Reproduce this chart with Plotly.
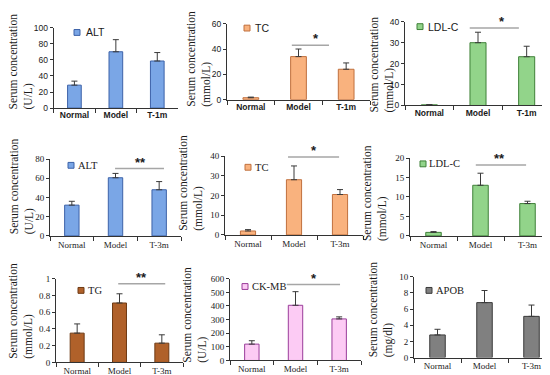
import plotly.graph_objects as go

W, H = 550, 375

# ---------------- data ----------------
cats_1m = ["Normal", "Model", "T-1m"]
cats_3m = ["Normal", "Model", "T-3m"]

alt_1m = [28.5, 70, 58.5]
alt_1m_err = [5, 15, 10.5]
tc_1m = [1.5, 34, 24]
tc_1m_err = [0.5, 6, 5]
ldl_1m = [0.3, 30, 23.3]
ldl_1m_err = [0.1, 5, 5]

alt_3m = [32, 60.5, 48]
alt_3m_err = [4, 4.5, 8.5]
tc_3m = [2, 28, 20.5]
tc_3m_err = [0.7, 7, 2.5]
ldl_3m = [0.9, 13, 8.3]
ldl_3m_err = [0.2, 3.1, 0.6]

tg_3m = [0.35, 0.71, 0.23]
tg_3m_err = [0.11, 0.11, 0.10]
ckmb_3m = [120, 405, 305]
ckmb_3m_err = [25, 100, 15]
apob_3m = [2.8, 6.8, 5.1]
apob_3m_err = [0.7, 1.5, 1.4]

series_names = ["ALT", "TC", "LDL-C", "ALT", "TC", "LDL-C", "TG", "CK-MB", "APOB"]
units = ["(U/L)", "(mmol/L)", "(mmol/L)", "(U/L)", "(mmol/L)", "(mmol/L)",
         "(mmol/L)", "(U/L)", "(mg/dl)"]
y_max = [100, 60, 40, 80, 40, 20, 1, 600, 10]
y_step = [20, 20, 10, 20, 10, 5, 0.2, 100, 2]
sig_marks = ["", "*", "*", "**", "*", "**", "**", "*", ""]
sig_level = [None, 43, 37, 70, 39.5, 18.2, 0.94, 557, None]

panel_data = [
    (cats_1m, alt_1m, alt_1m_err),
    (cats_1m, tc_1m, tc_1m_err),
    (cats_1m, ldl_1m, ldl_1m_err),
    (cats_3m, alt_3m, alt_3m_err),
    (cats_3m, tc_3m, tc_3m_err),
    (cats_3m, ldl_3m, ldl_3m_err),
    (cats_3m, tg_3m, tg_3m_err),
    (cats_3m, ckmb_3m, ckmb_3m_err),
    (cats_3m, apob_3m, apob_3m_err),
]

# ---------------- styling / geometry (pixels) ----------------
fills = ["#7aa6e6", "#f9b27e", "#92d48a", "#7aa6e6", "#f9b27e", "#92d48a",
         "#b0612a", "#fccbf4", "#808080"]
outlines = ["#3d62a8", "#c0703e", "#3f8038", "#3d62a8", "#c0703e", "#3f8038",
            "#6e3a14", "#9a3c9a", "#3a3a3a"]

# (x_left, x_right, y_top, y_bottom)
boxes = [
    (45.7, 170, 15, 97.7), (219, 362, 11, 89), (397, 543, 9, 95),
    (42, 173, 150, 229), (217, 355, 147, 228), (402, 543, 149, 229),
    (48, 175, 273, 359), (222, 353, 273, 357), (406, 547, 271, 354),
]
# y-title block centre (x, y)
title_pos = [(12.8, 50), (191.5, 47.5), (374, 53), (14, 178), (183.5, 175),
             (367, 185), (13, 306), (187, 310), (372.5, 305)]
# legend square centre (x, y) and text left
leg_pos = [(69, 20, 76), (239, 15.5, 245), (412, 14, 418), (63, 156.5, 68),
           (240, 158.5, 245), (415, 155, 419), (73, 285, 78), (237, 281, 242),
           (421, 285, 426)]
# significance line extent in category index units, star x
sig_span = [None, (0.86, 1.64, 1.36), (0.83, 1.84, 1.49), (0.99, 2.11, 1.58),
            (0.87, 1.98, 1.43), (0.9, 1.97, 1.41), (0.97, 2.08, 1.51),
            (0.8, 2.02, 1.42), None]

SANS = "Liberation Sans, Arial, sans-serif"
SERIF = "Liberation Serif, Times New Roman, serif"
TXT = "#1a1a1a"

fig = go.Figure()
layout = dict(
    width=W, height=H, margin=dict(l=0, r=0, t=0, b=0),
    paper_bgcolor="white", plot_bgcolor="white", showlegend=False,
    shapes=[], annotations=[],
)

for i in range(9):
    n = i + 1
    cats, vals, errs = panel_data[i]
    xl, xr, yt, yb = boxes[i]
    top_row = i < 3
    tick_font = dict(family=SANS if top_row else SERIF, size=8.5 if top_row else 9, color=TXT)
    cat_font = (dict(family=SANS, size=8.5, color=TXT, weight="bold") if top_row
                else dict(family=SERIF, size=9, color=TXT))

    fig.add_trace(go.Bar(
        x=cats, y=vals, width=0.33,
        marker=dict(color=fills[i], line=dict(color=outlines[i], width=1)),
        error_y=dict(type="data", array=errs, arrayminus=[0] * len(errs),
                     symmetric=False, color="#3a3a3a", thickness=1, width=3),
        xaxis=f"x{n}", yaxis=f"y{n}", showlegend=False,
    ))

    xk = "xaxis" if n == 1 else f"xaxis{n}"
    yk = "yaxis" if n == 1 else f"yaxis{n}"
    layout[xk] = dict(
        domain=[xl / W, xr / W], anchor=f"y{n}", type="category",
        range=[-0.5, 2.5], tickson="boundaries", ticks="outside", ticklen=4,
        tickcolor="#333", showline=True, linecolor="#333", linewidth=1,
        showgrid=False, zeroline=False, tickfont=cat_font, fixedrange=True,
        ticklabelstandoff=-1 if top_row else 0,
    )
    layout[yk] = dict(
        domain=[1 - yb / H, 1 - yt / H], anchor=f"x{n}",
        range=[0, y_max[i]], dtick=y_step[i], tick0=0, ticks="outside",
        ticklen=3, tickcolor="#333", showline=True, linecolor="#333",
        linewidth=1, showgrid=False, zeroline=False, tickfont=tick_font,
        fixedrange=True,
    )

    # y title
    tx, ty = title_pos[i]
    layout["annotations"].append(dict(
        text=f"Serum concentration<br>{units[i]}", textangle=-90, align="left",
        x=tx / W, y=1 - ty / H, xref="paper", yref="paper",
        xanchor="center", yanchor="middle", showarrow=False,
        font=dict(family=SERIF, size=11.5, color=TXT),
    ))

    # legend square + text
    lx, ly, ltx = leg_pos[i]
    layout["shapes"].append(dict(
        type="rect", xref="paper", yref="paper",
        x0=(lx - 3) / W, x1=(lx + 3) / W, y0=1 - (ly + 3) / H, y1=1 - (ly - 3) / H,
        fillcolor=fills[i], line=dict(color=outlines[i], width=1),
    ))
    layout["annotations"].append(dict(
        text=series_names[i], x=ltx / W, y=1 - ly / H, xref="paper", yref="paper",
        xanchor="left", yanchor="middle", showarrow=False,
        font=dict(family=SANS if top_row else SERIF, size=10.5, color=TXT),
    ))

    # significance
    if sig_span[i] is not None:
        s0, s1, sx = sig_span[i]
        layout["shapes"].append(dict(
            type="line", xref=f"x{n}", yref=f"y{n}", x0=s0, x1=s1,
            y0=sig_level[i], y1=sig_level[i], line=dict(color="#a6a6a6", width=1.5),
        ))
        layout["annotations"].append(dict(
            text=f"<b>{sig_marks[i]}</b>", x=sx, y=sig_level[i], xref=f"x{n}", yref=f"y{n}",
            xanchor="center", yanchor="bottom", showarrow=False, yshift=-3,
            font=dict(family=SANS, size=13, color=TXT),
        ))

fig.update_layout(**layout)
fig.write_html("out.html")
